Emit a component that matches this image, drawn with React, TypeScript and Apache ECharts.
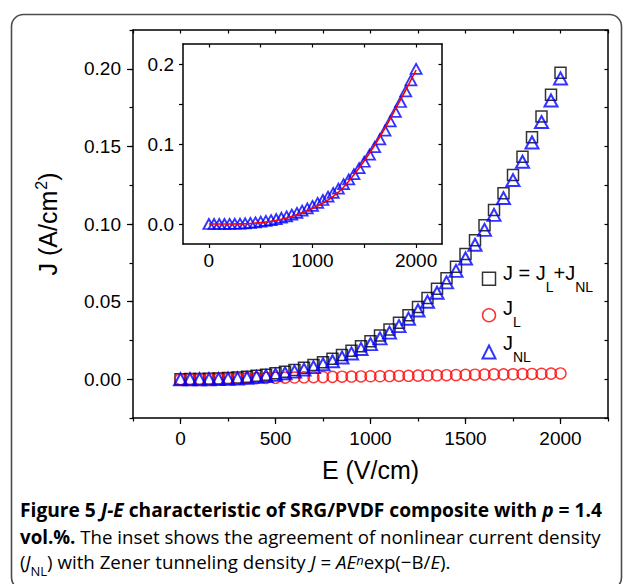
import React, { useEffect, useRef } from "react";
import * as echarts from "echarts";

const E_FIELD = [0, 50, 100, 150, 200, 250, 300, 350, 400, 450, 500, 550, 600, 650, 700, 750, 800, 850, 900, 950, 1000, 1050, 1100, 1150, 1200, 1250, 1300, 1350, 1400, 1450, 1500, 1550, 1600, 1650, 1700, 1750, 1800, 1850, 1900, 1950, 2000];
const J_TOTAL = [0.0000, 0.0001, 0.0002, 0.0003, 0.0005, 0.0008, 0.0011, 0.0016, 0.0022, 0.0029, 0.0038, 0.0048, 0.0060, 0.0074, 0.0091, 0.0110, 0.0131, 0.0156, 0.0183, 0.0213, 0.0245, 0.0282, 0.0320, 0.0363, 0.0412, 0.0466, 0.0523, 0.0582, 0.0650, 0.0725, 0.0806, 0.0895, 0.0992, 0.1090, 0.1198, 0.1315, 0.1434, 0.1559, 0.1692, 0.1832, 0.1975];
const J_LINEAR = [0.0000, 0.0001, 0.0002, 0.0003, 0.0004, 0.0005, 0.0006, 0.0007, 0.0007, 0.0008, 0.0009, 0.0010, 0.0011, 0.0012, 0.0013, 0.0014, 0.0015, 0.0016, 0.0017, 0.0018, 0.0019, 0.0019, 0.0020, 0.0021, 0.0022, 0.0023, 0.0024, 0.0025, 0.0026, 0.0027, 0.0028, 0.0029, 0.0030, 0.0031, 0.0031, 0.0032, 0.0033, 0.0034, 0.0035, 0.0036, 0.0037];
const J_NONLINEAR = [0.0000, 0.0000, 0.0000, 0.0000, 0.0001, 0.0003, 0.0005, 0.0009, 0.0015, 0.0021, 0.0029, 0.0038, 0.0049, 0.0062, 0.0078, 0.0096, 0.0116, 0.0140, 0.0166, 0.0195, 0.0226, 0.0263, 0.0300, 0.0342, 0.0390, 0.0443, 0.0499, 0.0557, 0.0624, 0.0698, 0.0778, 0.0866, 0.0962, 0.1059, 0.1167, 0.1283, 0.1401, 0.1525, 0.1657, 0.1796, 0.1938];

const FIT_E = [0, 100, 200, 300, 400, 500, 600, 700, 800, 900, 1000, 1100, 1200, 1300, 1400, 1500, 1600, 1700, 1800, 1900, 2000];
const FIT_J = [0.0000, 0.0000, 0.0000, 0.0002, 0.0007, 0.0017, 0.0034, 0.0060, 0.0095, 0.0140, 0.0195, 0.0260, 0.0345, 0.0460, 0.0615, 0.0790, 0.0985, 0.1200, 0.1435, 0.1675, 0.1925];

const MAIN_X_TICKS = [0, 500, 1000, 1500, 2000];
const MAIN_Y_TICKS = [0, 0.05, 0.1, 0.15, 0.2];
const INSET_X_LABELS = [0, 1000, 2000];
const INSET_X_TICKS = [0, 500, 1000, 1500, 2000];
const INSET_Y_LABELS = [0, 0.1, 0.2];
const INSET_Y_TICKS = [0, 0.05, 0.1, 0.15, 0.2];

const X_MIN = -250;
const X_MAX = 2250;
const Y_MIN = -0.025;
const Y_MAX = 0.225;

const AXIS_FONT = "'Liberation Sans', Arial, Helvetica, sans-serif";
const CAP_FONT = "'Open Sans', 'Noto Sans', sans-serif";

function zip(xs: number[], ys: number[]) {
  return xs.map((x, i) => [x, ys[i]]);
}

const axisLineStyle = { show: true, onZero: false, lineStyle: { color: "#000", width: 1.5 } };
const hiddenLine = { show: false, onZero: false };
const tickStyle = { color: "#000", width: 1.2 };

function capRichFor(CS: number) {
  const CL = 24;
  const cc = "#231f20";
  return {
    b: { fontFamily: CAP_FONT, fontSize: CS, fontWeight: "bold", lineHeight: CL, verticalAlign: "top", color: cc },
    bi: { fontFamily: CAP_FONT, fontSize: CS, fontWeight: "bold", fontStyle: "italic", lineHeight: CL, verticalAlign: "top", color: cc },
    r: { fontFamily: CAP_FONT, fontSize: CS, lineHeight: CL, verticalAlign: "top", color: cc },
    ri: { fontFamily: CAP_FONT, fontSize: CS, fontStyle: "italic", lineHeight: CL, verticalAlign: "top", color: cc },
    rs: { fontFamily: CAP_FONT, fontSize: 13, lineHeight: 14, padding: [12, 0, 0, 0], verticalAlign: "top", color: cc },
    sup: { fontFamily: CAP_FONT, fontSize: 13, fontStyle: "italic", lineHeight: 14, padding: [1, 0, 0, 0], verticalAlign: "top", color: cc },
  };
}

function buildOption() {
  const legRich: any = {
    m: { fontFamily: AXIS_FONT, fontSize: 20, lineHeight: 20, verticalAlign: "top", color: "#000" },
    s: { fontFamily: AXIS_FONT, fontSize: 14, lineHeight: 12, padding: [17, 0, 0, 0], verticalAlign: "top", color: "#000" },
  };
  const txt = (x: number, y: number, text: string, rich: any, font: string) => ({
    type: "text",
    x,
    y,
    z: 100,
    style: {
      text,
      rich,
      fontFamily: font,
      fontSize: 16,
      fill: "#000",
      align: "left",
      verticalAlign: "top",
      textAlign: "left",
      textVerticalAlign: "top",
    },
  });

  return {
    animation: false,
    backgroundColor: "#ffffff",
    grid: [
      { left: 133, top: 30, width: 475, height: 388, containLabel: false },
      { left: 183, top: 44, width: 259, height: 200, containLabel: false },
    ],
    xAxis: [
      {
        gridIndex: 0, type: "value", position: "bottom", min: X_MIN, max: X_MAX,
        axisLine: axisLineStyle,
        axisTick: { show: true, customValues: MAIN_X_TICKS, length: 6, lineStyle: tickStyle },
        axisLabel: { customValues: MAIN_X_TICKS, fontSize: 19, fontFamily: AXIS_FONT, color: "#000", margin: 11, formatter: (v: number) => String(v) },
        splitLine: { show: false },
        name: "E (V/cm)", nameLocation: "middle", nameGap: 39,
        nameTextStyle: { fontSize: 25, fontFamily: AXIS_FONT, color: "#000", verticalAlign: "top" },
      },
      {
        gridIndex: 0, type: "value", position: "bottom", min: X_MIN, max: X_MAX, interval: 250,
        axisLine: hiddenLine,
        axisTick: { show: true, length: 3.5, lineStyle: tickStyle },
        axisLabel: { show: false },
        splitLine: { show: false },
      },
      {
        gridIndex: 0, type: "value", position: "top", min: X_MIN, max: X_MAX, interval: 250,
        axisLine: axisLineStyle,
        axisTick: { show: true, inside: true, length: 3.5, lineStyle: tickStyle },
        axisLabel: { show: false },
        splitLine: { show: false },
      },
      {
        gridIndex: 1, type: "value", position: "bottom", min: X_MIN, max: X_MAX,
        axisLine: axisLineStyle,
        axisTick: { show: true, customValues: INSET_X_TICKS, length: 4, lineStyle: tickStyle },
        axisLabel: { customValues: INSET_X_LABELS, fontSize: 19, fontFamily: AXIS_FONT, color: "#000", margin: 7, formatter: (v: number) => String(v) },
        splitLine: { show: false },
      },
      {
        gridIndex: 1, type: "value", position: "top", min: X_MIN, max: X_MAX,
        axisLine: axisLineStyle,
        axisTick: { show: true, inside: true, customValues: INSET_X_TICKS, length: 3.5, lineStyle: tickStyle },
        axisLabel: { show: false },
        splitLine: { show: false },
      },
    ],
    yAxis: [
      {
        gridIndex: 0, type: "value", position: "left", min: Y_MIN, max: Y_MAX,
        axisLine: axisLineStyle,
        axisTick: { show: true, customValues: MAIN_Y_TICKS, length: 6, lineStyle: tickStyle },
        axisLabel: { customValues: MAIN_Y_TICKS, fontSize: 19, fontFamily: AXIS_FONT, color: "#000", margin: 12, formatter: (v: number) => v.toFixed(2) },
        splitLine: { show: false },
        name: "{a|J (A/cm}{s|2}{a|)}", nameLocation: "middle", nameGap: 73, nameRotate: 90,
        nameTextStyle: {
          fontSize: 25, fontFamily: AXIS_FONT, color: "#000", verticalAlign: "bottom",
          rich: {
            a: { fontSize: 25, fontFamily: AXIS_FONT, color: "#000", lineHeight: 28, verticalAlign: "bottom" },
            s: { fontSize: 16, fontFamily: AXIS_FONT, color: "#000", lineHeight: 16, verticalAlign: "top", padding: [1, 0, 0, 1] },
          },
        },
      },
      {
        gridIndex: 0, type: "value", position: "left", min: Y_MIN, max: Y_MAX, interval: 0.025,
        axisLine: hiddenLine,
        axisTick: { show: true, length: 3.5, lineStyle: tickStyle },
        axisLabel: { show: false },
        splitLine: { show: false },
      },
      {
        gridIndex: 0, type: "value", position: "right", min: Y_MIN, max: Y_MAX, interval: 0.025,
        axisLine: axisLineStyle,
        axisTick: { show: true, inside: true, length: 3.5, lineStyle: tickStyle },
        axisLabel: { show: false },
        splitLine: { show: false },
      },
      {
        gridIndex: 1, type: "value", position: "left", min: Y_MIN, max: Y_MAX,
        axisLine: axisLineStyle,
        axisTick: { show: true, customValues: INSET_Y_TICKS, length: 4, lineStyle: tickStyle },
        axisLabel: { customValues: INSET_Y_LABELS, fontSize: 19, fontFamily: AXIS_FONT, color: "#000", margin: 9, formatter: (v: number) => v.toFixed(1) },
        splitLine: { show: false },
      },
      {
        gridIndex: 1, type: "value", position: "right", min: Y_MIN, max: Y_MAX,
        axisLine: axisLineStyle,
        axisTick: { show: true, inside: true, customValues: INSET_Y_TICKS, length: 3.5, lineStyle: tickStyle },
        axisLabel: { show: false },
        splitLine: { show: false },
      },
    ],
    legend: {
      orient: "vertical",
      left: 476.5,
      top: 266.5,
      itemWidth: 13,
      itemHeight: 13,
      itemGap: 22,
      selectedMode: false,
      formatter: () => "",
      textStyle: { fontSize: 1, lineHeight: 1 },
      data: [
        { name: "J", icon: "rect", itemStyle: { color: "rgba(255,255,255,0)", borderColor: "#000", borderWidth: 1.5 } },
        { name: "JL", icon: "circle", itemStyle: { color: "rgba(255,255,255,0)", borderColor: "#ff0000", borderWidth: 1.5 } },
        { name: "JNL", icon: "triangle", itemStyle: { color: "rgba(255,255,255,0)", borderColor: "#0000ff", borderWidth: 2 } },
      ],
    },
    series: [
      {
        name: "J", type: "scatter", xAxisIndex: 0, yAxisIndex: 0,
        data: zip(E_FIELD, J_TOTAL), symbol: "rect", symbolSize: 11,
        itemStyle: { color: "rgba(255,255,255,0)", borderColor: "#000", borderWidth: 1.5 },
      },
      {
        name: "JL", type: "scatter", xAxisIndex: 0, yAxisIndex: 0,
        data: zip(E_FIELD, J_LINEAR), symbol: "circle", symbolSize: 11,
        itemStyle: { color: "rgba(255,255,255,0)", borderColor: "#ff0000", borderWidth: 1.4 },
      },
      {
        name: "JNL", type: "scatter", xAxisIndex: 0, yAxisIndex: 0,
        data: zip(E_FIELD, J_NONLINEAR), symbol: "triangle", symbolSize: [13, 12],
        itemStyle: { color: "rgba(255,255,255,0)", borderColor: "#0000ff", borderWidth: 2 },
      },
      {
        name: "inset JNL", type: "scatter", xAxisIndex: 3, yAxisIndex: 3,
        data: zip(E_FIELD, J_NONLINEAR), symbol: "triangle", symbolSize: [11, 10],
        itemStyle: { color: "rgba(255,255,255,0)", borderColor: "#0000ff", borderWidth: 1.8 },
      },
      {
        name: "Zener fit", type: "line", xAxisIndex: 3, yAxisIndex: 3,
        data: zip(FIT_E, FIT_J), showSymbol: false, symbol: "none", smooth: 0.3,
        lineStyle: { color: "#ff0000", width: 1.6 },
      },
    ],
    graphic: [
      {
        type: "rect", z: 0,
        shape: { x: 11.5, y: 14.5, width: 610, height: 575, r: 12 },
        style: { fill: "none", stroke: "#4d4d4d", lineWidth: 1.6 },
      },
      txt(503, 263, "{m|J = J}{s|L}{m|+J}{s|NL}", legRich, AXIS_FONT),
      txt(503, 298, "{m|J}{s|L}", legRich, AXIS_FONT),
      txt(503, 333, "{m|J}{s|NL}", legRich, AXIS_FONT),
      txt(20, 500, "{b|Figure 5 }{bi|J-E}{b| characteristic of SRG/PVDF composite with }{bi|p}{b| = 1.4}", capRichFor(19.2), CAP_FONT),
      txt(20, 527, "{b|vol.%.}{r| The inset shows the agreement of nonlinear current density}", capRichFor(18.7), CAP_FONT),
      txt(20, 552, "{r|(}{ri|J}{rs|NL}{r|) with Zener tunneling density }{ri|J}{r| = }{ri|AE}{sup|n}{r|exp(−B/}{ri|E}{r|).}", capRichFor(18.7), CAP_FONT),
    ],
  };
}

export default function App() {
  const ref = useRef<HTMLDivElement>(null);
  useEffect(() => {
    if (!ref.current) return;
    const chart = echarts.init(ref.current, null, { renderer: "svg" });
    chart.setOption(buildOption() as any);
    return () => chart.dispose();
  }, []);
  return (
    <div
      ref={ref}
      style={{ position: "absolute", left: 0, top: 0, width: 624, height: 584, background: "#fff" }}
    />
  );
}
